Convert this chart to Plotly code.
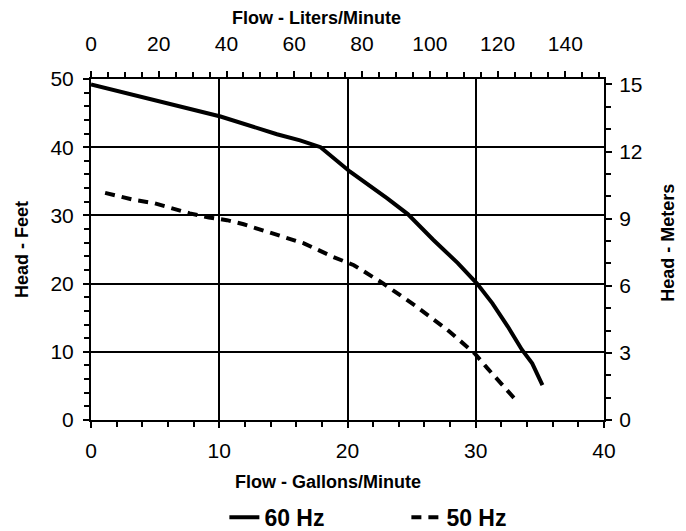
import plotly.graph_objects as go

# 60 Hz curve: flow (gal/min), head (ft)
gpm_60 = [0, 4.5, 10.1, 14.5, 16.3, 17.9, 18.7, 20.2, 23.1, 24.7, 26.7, 28.6, 30.1, 31.3, 32.5, 33.6, 34.4, 35.2]
ft_60 = [49.2, 47.1, 44.5, 41.9, 41.0, 40.0, 38.7, 36.4, 32.5, 30.2, 26.4, 23.0, 20.0, 17.1, 13.7, 10.3, 8.3, 5.1]

# 50 Hz curve
gpm_50 = [1.1, 3.3, 4.9, 6.4, 7.7, 9.2, 10.6, 11.9, 13.3, 15.0, 16.6, 18.9, 20.5, 22.8, 25.4, 27.8, 29.9, 30.9, 33.0]
ft_50 = [33.3, 32.3, 31.8, 31.0, 30.3, 29.7, 29.3, 28.7, 27.9, 26.9, 25.9, 23.9, 22.7, 20.0, 16.6, 13.2, 9.8, 7.6, 3.2]

series_names = ["60 Hz", "50 Hz"]
title_top = "Flow - Liters/Minute"
title_bottom = "Flow - Gallons/Minute"
title_left = "Head - Feet"
title_right = "Head - Meters"

GAL_TO_L = 3.785411784
FT_TO_M = 0.3048
x_max_gpm = 40
y_max_ft = 50

FONT = "Liberation Sans, Arial, Helvetica, sans-serif"

fig = go.Figure()
fig.add_trace(go.Scatter(x=gpm_60, y=ft_60, mode="lines", name=series_names[0],
                         line=dict(color="black", width=4)))
fig.add_trace(go.Scatter(x=gpm_50, y=ft_50, mode="lines", name=series_names[1],
                         line=dict(color="black", width=4, dash="10px,7px")))
# invisible traces to activate secondary axes
fig.add_trace(go.Scatter(x=[0], y=[0], xaxis="x2", yaxis="y", mode="markers",
                         marker=dict(opacity=0), showlegend=False, hoverinfo="skip"))
fig.add_trace(go.Scatter(x=[0], y=[0], xaxis="x", yaxis="y2", mode="markers",
                         marker=dict(opacity=0), showlegend=False, hoverinfo="skip"))

tickfont = dict(family=FONT, size=21, color="black")
titlefont = dict(family=FONT, size=18, color="black", weight="bold")

common = dict(showline=True, linecolor="black", linewidth=2, ticks="outside",
              tickcolor="black", tickwidth=2, ticklen=6, tickfont=tickfont,
              zeroline=False, mirror=False, automargin=False)

minor_style = dict(ticks="outside", ticklen=5, tickcolor="black", tickwidth=1.5, showgrid=False)

fig.update_layout(
    width=686, height=531,
    # page body adds an 8px offset; margins compensate so the plot sits at 91..604 x 79..420
    margin=dict(l=83, r=90, t=71, b=119, autoexpand=False),
    paper_bgcolor="white", plot_bgcolor="white",
    showlegend=True,
    legend=dict(orientation="h", x=0.26, xanchor="left", y=-0.285, yanchor="middle",
                font=dict(family=FONT, size=23, color="black", weight="bold"),
                entrywidth=137, bgcolor="rgba(0,0,0,0)"),
    xaxis=dict(range=[0, x_max_gpm], dtick=10, tick0=0,
               showgrid=True, gridcolor="black", gridwidth=1.5,
               minor=dict(dtick=2, **minor_style), ticklabelstandoff=5,
               **common),
    xaxis2=dict(range=[0, x_max_gpm * GAL_TO_L], dtick=20, tick0=0, overlaying="x", side="top",
                showgrid=False, minor=dict(dtick=5, **minor_style), ticklabelstandoff=12,
                **common),
    yaxis=dict(range=[0, y_max_ft], dtick=10, tick0=0,
               showgrid=True, gridcolor="black", gridwidth=1.5,
               minor=dict(dtick=2, **minor_style), ticklabelstandoff=5,
               **common),
    yaxis2=dict(range=[0, y_max_ft * FT_TO_M], dtick=3, tick0=0, overlaying="y", side="right",
                showgrid=False, minor=dict(dtick=1, **minor_style), ticklabelstandoff=3,
                **common),
    annotations=[
        dict(text=title_top, xref="paper", yref="paper", x=0.4386, y=1.18,
             xanchor="center", yanchor="middle", showarrow=False, font=titlefont),
        dict(text=title_bottom, xref="paper", yref="paper", x=0.462, y=-0.182,
             xanchor="center", yanchor="middle", showarrow=False, font=titlefont),
        dict(text=title_left, xref="paper", yref="paper", x=-0.1345, y=0.4985,
             xanchor="center", yanchor="middle", showarrow=False, font=titlefont, textangle=-90),
        dict(text=title_right, xref="paper", yref="paper", x=1.125, y=0.52,
             xanchor="center", yanchor="middle", showarrow=False, font=titlefont, textangle=-90),
    ],
)

fig.write_html("out.html")
